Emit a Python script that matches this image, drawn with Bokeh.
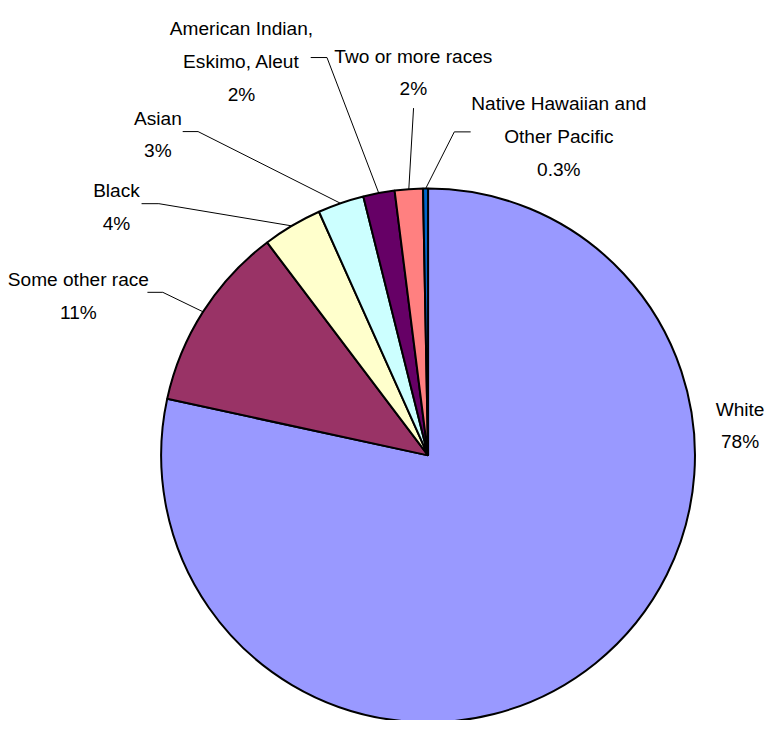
import numpy as np
from bokeh.plotting import figure
from bokeh.models import ColumnDataSource, Range1d
from bokeh.core.properties import value
from bokeh.embed import file_html
from bokeh.resources import INLINE

# ---- data ----
categories = ["White", "Some other race", "Black", "Asian",
              "American Indian, Eskimo, Aleut", "Two or more races",
              "Native Hawaiian and Other Pacific"]
values = [78.4, 11.3, 3.6, 2.8, 1.9, 1.7, 0.3]
name_lines = [["White"], ["Some other race"], ["Black"], ["Asian"],
              ["American Indian,", "Eskimo, Aleut"], ["Two or more races"],
              ["Native Hawaiian and", "Other Pacific"]]
colors = ["#9999FF", "#993366", "#FFFFCC", "#CCFFFF", "#660066", "#FF8080", "#0066CC"]

# ---- layout (reference pixel coordinates, 781 x 736 canvas) ----
REF_W, REF_H = 781, 736
W, H = 765, 720
CX, CY, R = 436.5, 465.0, 272.5
LINE = 33.5
FONT = "Liberation Sans"
FONT_PX = 19.5 * W / REF_W
label_anchor = [(755, 417.8), (79.5, 285.5), (118.4, 194.5), (160.7, 120.2),
                (246, 28.8), (421.5, 56.8), (570, 105.5)]
leader_start = [None,
                [(150, 298.3), (165.7, 298.3)],
                [(144, 207.7), (161.7, 207.7)],
                [(186, 134), (201.7, 134)],
                [(316.7, 58.3), (333.3, 58.3)],
                [(421.7, 110)],
                [(480, 134.3), (463.3, 134.3)]]

p = figure(width=W, height=H, x_range=Range1d(0, REF_W), y_range=Range1d(-REF_H, 0),
           output_backend="svg", toolbar_location=None, min_border=0,
           x_axis_location=None, y_axis_location=None)
p.grid.visible = False
p.outline_line_color = None
p.background_fill_color = "white"
p.border_fill_color = "white"

vals = np.array(values, dtype=float)
frac = vals / vals.sum()
cum = np.concatenate([[0.0], np.cumsum(frac)])
theta1 = cum[:-1] * 2 * np.pi   # clockwise from 12 o'clock
theta2 = cum[1:] * 2 * np.pi
mid = (theta1 + theta2) / 2

src = ColumnDataSource(dict(
    start=np.pi / 2 - theta1, end=np.pi / 2 - theta2, color=colors, name=categories))
p.wedge(x=CX, y=-CY, radius=R, start_angle="start", end_angle="end", direction="clock",
        fill_color="color", line_color="black", line_width=2, source=src)

# leader lines
xs, ys = [], []
for i, pts in enumerate(leader_start):
    if pts is None:
        continue
    ex = CX + R * np.sin(mid[i])
    ey = CY - R * np.cos(mid[i])
    xs.append([q[0] for q in pts] + [ex])
    ys.append([-q[1] for q in pts] + [-ey])
p.multi_line(xs=xs, ys=ys, line_color="black", line_width=1)

# labels
tx, ty, tt = [], [], []
for i, lines in enumerate(name_lines):
    ax, ay = label_anchor[i]
    v = values[i]
    pct = f"{v:.1f}%" if v < 1 else f"{v:.0f}%"
    for k, s in enumerate(lines + [pct]):
        tx.append(ax)
        ty.append(-(ay + k * LINE))
        tt.append(s)
p.text(x=tx, y=ty, text=tt, text_align="center", text_baseline="alphabetic",
       text_font=value(FONT), text_font_size=f"{FONT_PX:.1f}px", text_color="black")

open("out.html", "w").write(file_html(p, INLINE))
